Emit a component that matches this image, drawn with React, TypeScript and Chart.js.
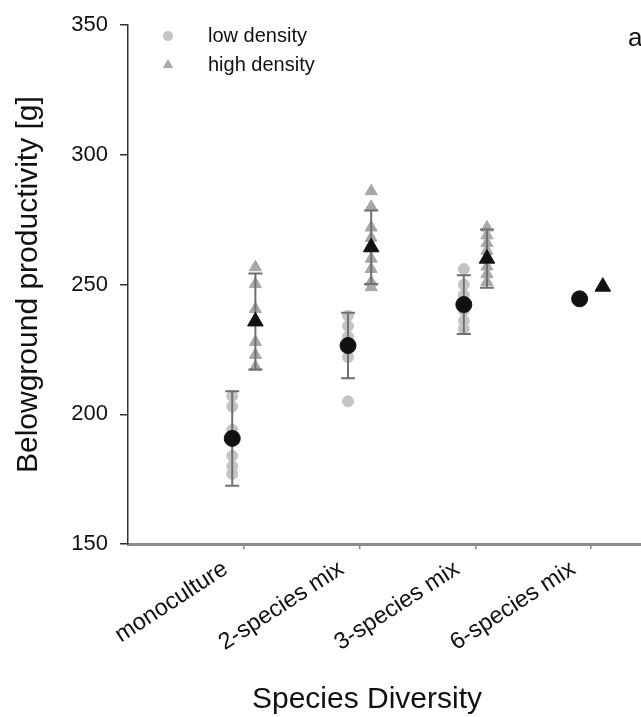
import { useEffect, useRef } from 'react';
import { Chart, registerables } from 'chart.js';

Chart.register(...registerables);

const categories = ['monoculture', '2-species mix', '3-species mix', '6-species mix'];
const yTicks = [150, 200, 250, 300, 350];
const lowMean = [190.7, 226.5, 242.3, 244.5];
const lowSD = [18.2, 12.6, 11.3, 0];
const highMean = [235.8, 264.4, 260.0, 249.2];
const highSD = [18.5, 14.2, 11.2, 0];
const lowRaw = [
  [207, 203, 194, 184, 180, 177],
  [238, 234, 230, 226, 222, 205],
  [256, 250, 246, 240, 236, 233],
  [],
];
const highRaw = [
  [256.7, 250.2, 240.6, 227.9, 222.9, 218.3],
  [286, 280, 272, 268, 264, 260, 256, 251, 249],
  [272, 269, 266, 263, 257, 254, 251],
  [],
];

const OFF_LOW = -0.1;
const OFF_HIGH = 0.1;
const FONT = '"Liberation Sans", Arial, sans-serif';
const TEXT = '#111';

function rawPoints(raw: number[][], off: number) {
  const pts: { x: number; y: number }[] = [];
  raw.forEach((arr, i) => arr.forEach((v) => pts.push({ x: i + 1 + off, y: v })));
  return pts;
}

const overlay = {
  id: 'overlay',
  afterDatasetDraw(chart: any, args: any) {
    if (args.index !== 2) return;
    const { ctx } = chart;
    const xs = chart.scales.x;
    const ys = chart.scales.y;
    ctx.save();
    ctx.strokeStyle = '#707070';
    ctx.lineWidth = 2;
    const bars = (means: number[], sds: number[], off: number) => {
      means.forEach((m, i) => {
        const sd = sds[i];
        if (!sd) return;
        const x = xs.getPixelForValue(i + 1 + off);
        const yt = ys.getPixelForValue(m + sd);
        const yb = ys.getPixelForValue(m - sd);
        ctx.beginPath();
        ctx.moveTo(x, yt);
        ctx.lineTo(x, yb);
        ctx.moveTo(x - 7, yt);
        ctx.lineTo(x + 7, yt);
        ctx.moveTo(x - 7, yb);
        ctx.lineTo(x + 7, yb);
        ctx.stroke();
      });
    };
    bars(lowMean, lowSD, OFF_LOW);
    bars(highMean, highSD, OFF_HIGH);
    ctx.restore();
  },
  afterDraw(chart: any) {
    const { ctx } = chart;
    ctx.save();
    // legend
    ctx.fillStyle = '#c4c4c4';
    ctx.beginPath();
    ctx.arc(168, 36, 5, 0, Math.PI * 2);
    ctx.fill();
    ctx.fillStyle = '#a8a8a8';
    ctx.beginPath();
    const r = 6;
    ctx.moveTo(168, 65 - r);
    ctx.lineTo(168 + r * 0.866, 65 + r * 0.5);
    ctx.lineTo(168 - r * 0.866, 65 + r * 0.5);
    ctx.closePath();
    ctx.fill();
    ctx.fillStyle = TEXT;
    ctx.font = `20px ${FONT}`;
    ctx.textAlign = 'left';
    ctx.textBaseline = 'middle';
    ctx.fillText('low density', 208, 36);
    ctx.fillText('high density', 208, 65);
    // x axis title
    ctx.font = `30px ${FONT}`;
    ctx.textAlign = 'center';
    ctx.fillText('Species Diversity', 367, 700);
    // panel label
    ctx.font = `26px ${FONT}`;
    ctx.textAlign = 'left';
    ctx.textBaseline = 'alphabetic';
    ctx.fillText('a', 628, 46);
    ctx.restore();
  },
};

export default function App() {
  const ref = useRef<HTMLCanvasElement | null>(null);
  useEffect(() => {
    if (!ref.current) return;
    const chart = new Chart(ref.current, {
      type: 'scatter',
      data: {
        datasets: [
          {
            label: 'low density mean',
            data: lowMean.map((v, i) => ({ x: i + 1 + OFF_LOW, y: v })),
            pointStyle: 'circle',
            pointRadius: 8,
            backgroundColor: '#111',
            borderColor: '#111',
            borderWidth: 1,
          },
          {
            label: 'high density mean',
            data: highMean.map((v, i) => ({ x: i + 1 + OFF_HIGH, y: v })),
            pointStyle: 'triangle',
            pointRadius: 9,
            backgroundColor: '#111',
            borderColor: '#111',
            borderWidth: 1,
          },
          {
            label: 'low density',
            data: rawPoints(lowRaw, OFF_LOW),
            pointStyle: 'circle',
            pointRadius: 5.5,
            backgroundColor: '#c4c4c4',
            borderColor: '#c4c4c4',
            borderWidth: 1,
          },
          {
            label: 'high density',
            data: rawPoints(highRaw, OFF_HIGH),
            pointStyle: 'triangle',
            pointRadius: 7,
            backgroundColor: '#a8a8a8',
            borderColor: '#a8a8a8',
            borderWidth: 1,
          },
        ],
      },
      options: {
        animation: false,
        responsive: false,
        events: [],
        layout: { autoPadding: false, padding: { top: 22, left: 0, right: 0, bottom: 0 } },
        plugins: { legend: { display: false }, tooltip: { enabled: false } },
        scales: {
          x: {
            type: 'linear',
            min: 0,
            max: 4.43,
            afterBuildTicks: (s: any) => {
              s.ticks = categories.map((_, i) => ({ value: i + 1 }));
            },
            afterFit: (s: any) => {
              s.height = 173;
              s.paddingLeft = 0;
              s.paddingRight = 0;
            },
            ticks: {
              autoSkip: false,
              minRotation: 33,
              maxRotation: 33,
              padding: 6,
              labelOffset: -18,
              color: TEXT,
              font: { size: 23.5, family: FONT },
              callback: (v: any) => categories[Math.round(Number(v)) - 1] ?? '',
            },
            grid: { drawOnChartArea: false, tickLength: 5, color: '#888', lineWidth: 1.5 },
            border: { color: '#8c8c8c', width: 3 },
            title: { display: false },
          },
          y: {
            min: 150,
            max: 350,
            afterBuildTicks: (s: any) => {
              s.ticks = yTicks.map((v) => ({ value: v }));
            },
            afterFit: (s: any) => {
              s.width = 128;
            },
            ticks: {
              padding: 12,
              color: TEXT,
              font: { size: 22, family: FONT },
            },
            grid: { drawOnChartArea: false, tickLength: 8, color: '#333', lineWidth: 1.5 },
            border: { color: '#333', width: 1.5 },
            title: {
              display: true,
              text: 'Belowground productivity [g]',
              color: TEXT,
              font: { size: 30, family: FONT },
              padding: { top: 11, bottom: 0 },
            },
          },
        },
      },
      plugins: [overlay],
    });
    return () => chart.destroy();
  }, []);
  return (
    <div style={{ position: 'absolute', left: 0, top: 0, width: 641, height: 717, background: '#fff' }}>
      <canvas ref={ref} width={641} height={717} />
    </div>
  );
}
